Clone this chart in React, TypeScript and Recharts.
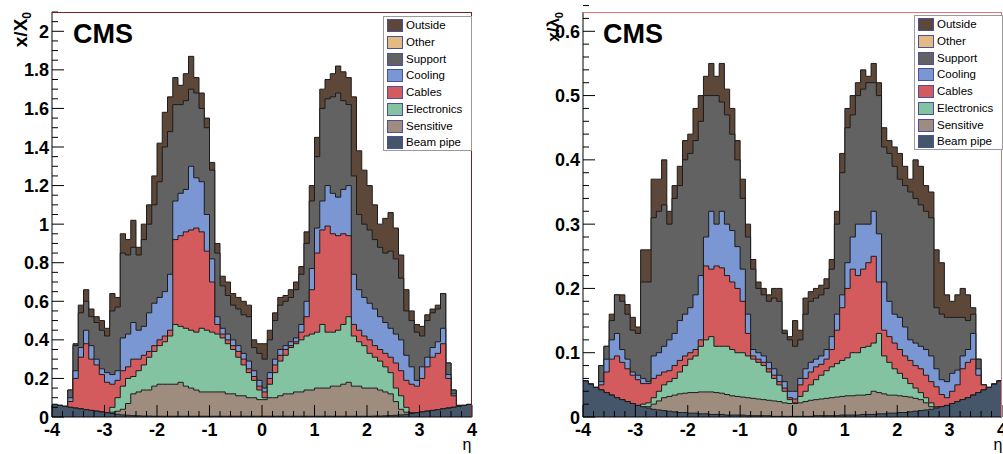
import React from 'react';
import { AreaChart, Area, XAxis, YAxis } from 'recharts';

const FONT = '"Liberation Sans", Arial, Helvetica, sans-serif';

// 80 eta bins of width 0.1 from -4 to 4 (left edges + closing edge)
const etaEdges = Array.from({ length: 81 }, (_, i) => (i - 40) / 10);

const xTickLabels = ['-4', '-3', '-2', '-1', '0', '1', '2', '3', '4'];
const x0TickLabels = ['0', '0.2', '0.4', '0.6', '0.8', '1', '1.2', '1.4', '1.6', '1.8', '2'];
const l0TickLabels = ['0', '0.1', '0.2', '0.3', '0.4', '0.5', '0.6'];

// ---------- radiation length x/X0, stacked tops per category ----------
const x0BeamPipe = [
  .065, .060, .055, .050, .046, .042, .038, .034, .030, .026,
  .022, .018, .014, .011, .009, .007, .006, .005, .005, .004,
  .004, .004, .004, .004, .004, .004, .004, .004, .004, .004,
  .004, .004, .004, .004, .004, .004, .004, .004, .004, .004,
  .004, .004, .004, .004, .004, .004, .004, .004, .004, .004,
  .004, .004, .004, .004, .004, .004, .004, .004, .004, .004,
  .004, .005, .005, .006, .007, .009, .011, .014, .018, .022,
  .026, .030, .034, .038, .042, .046, .050, .055, .060, .065,
];
const x0Sensitive = [
  .065, .060, .055, .050, .046, .042, .038, .034, .030, .026,
  .022, .025, .030, .040, .070, .120, .130, .140, .140, .160,
  .170, .170, .170, .170, .180, .160, .150, .140, .130, .130,
  .130, .130, .130, .120, .120, .110, .110, .100, .100, .090,
  .090, .100, .100, .110, .120, .120, .130, .130, .140, .140,
  .150, .150, .150, .160, .160, .170, .180, .160, .160, .150,
  .150, .150, .140, .130, .120, .080, .040, .025, .020, .022,
  .026, .030, .034, .038, .042, .046, .050, .055, .060, .065,
];
const x0Electronics = [
  .065, .060, .055, .050, .046, .042, .038, .034, .030, .026,
  .022, .050, .100, .160, .200, .210, .240, .270, .310, .340,
  .370, .390, .420, .480, .470, .460, .450, .440, .460, .450,
  .440, .430, .410, .380, .350, .310, .270, .230, .190, .140,
  .100, .170, .230, .290, .320, .360, .380, .400, .420, .430,
  .440, .480, .440, .440, .450, .480, .520, .420, .390, .370,
  .330, .310, .290, .260, .230, .150, .110, .050, .022, .022,
  .026, .030, .034, .038, .042, .046, .050, .055, .060, .065,
];
const x0Cables = [
  .065, .060, .055, .080, .200, .310, .380, .300, .270, .220,
  .180, .170, .190, .240, .260, .300, .300, .320, .340, .370,
  .400, .420, .450, .920, .940, .960, .970, .980, .960, .860,
  .700, .480, .430, .400, .370, .340, .300, .250, .210, .160,
  .130, .200, .270, .320, .350, .370, .390, .440, .520, .660,
  .850, .970, .990, .950, .940, .950, .940, .480, .450, .420,
  .400, .370, .350, .330, .310, .280, .240, .190, .170, .160,
  .200, .260, .310, .330, .380, .200, .110, .060, .060, .065,
];
const x0Cooling = [
  .065, .060, .055, .100, .240, .360, .450, .370, .300, .250,
  .230, .220, .240, .410, .430, .490, .450, .470, .540, .590,
  .620, .650, .740, 1.12, 1.16, 1.18, 1.30, 1.24, 1.22, 1.05,
  .820, .520, .460, .430, .400, .370, .330, .290, .240, .190,
  .150, .230, .300, .350, .370, .390, .410, .480, .600, .770,
  .980, 1.12, 1.20, 1.16, 1.14, 1.18, 1.20, .740, .660, .620,
  .590, .560, .520, .490, .460, .430, .400, .320, .260, .190,
  .260, .310, .360, .390, .460, .220, .120, .060, .060, .065,
];
const x0Support = [
  .065, .060, .055, .140, .370, .540, .600, .520, .490, .450,
  .420, .550, .570, .850, .840, .880, .840, .920, 1.00, 1.10,
  1.22, 1.40, 1.48, 1.62, 1.62, 1.64, 1.70, 1.68, 1.60, 1.50,
  1.28, .850, .680, .630, .580, .560, .530, .520, .360, .330,
  .300, .400, .500, .580, .600, .620, .660, .740, .900, 1.12,
  1.35, 1.60, 1.65, 1.66, 1.68, 1.64, 1.62, 1.25, 1.05, 1.00,
  .970, .920, .880, .850, .860, .820, .720, .550, .500, .440,
  .420, .500, .540, .560, .640, .280, .140, .060, .060, .065,
];
const x0Outside = [
  .065, .060, .055, .140, .380, .580, .660, .560, .520, .500,
  .460, .640, .620, .950, .920, 1.02, .880, 1.00, 1.10, 1.25,
  1.42, 1.58, 1.66, 1.76, 1.72, 1.78, 1.87, 1.76, 1.68, 1.55,
  1.32, .900, .730, .700, .640, .620, .600, .580, .400, .380,
  .380, .450, .540, .620, .630, .660, .700, .780, .960, 1.20,
  1.45, 1.70, 1.75, 1.78, 1.82, 1.79, 1.76, 1.66, 1.38, 1.28,
  1.20, 1.10, 1.00, 1.03, 1.06, .980, .840, .660, .550, .480,
  .470, .530, .560, .580, .640, .280, .140, .060, .060, .065,
];

// ---------- interaction length x/lambda0, stacked tops per category ----------
const l0BeamPipe = [
  .056, .051, .046, .042, .038, .034, .030, .027, .024, .021,
  .018, .016, .014, .012, .011, .010, .009, .008, .007, .007,
  .006, .006, .005, .005, .004, .004, .004, .003, .003, .003,
  .003, .002, .002, .002, .002, .002, .001, .001, .001, .001,
  .001, .001, .001, .001, .002, .002, .002, .002, .002, .003,
  .003, .003, .003, .004, .004, .004, .005, .005, .006, .006,
  .007, .007, .008, .009, .010, .011, .012, .014, .016, .018,
  .021, .024, .027, .030, .034, .038, .042, .046, .051, .056,
];
const l0Sensitive = [
  .056, .051, .046, .042, .038, .034, .030, .027, .024, .021,
  .018, .016, .016, .020, .025, .030, .032, .034, .036, .037,
  .038, .038, .039, .039, .039, .038, .037, .035, .033, .032,
  .031, .030, .029, .028, .027, .026, .025, .024, .022, .021,
  .021, .022, .024, .026, .027, .028, .029, .030, .031, .032,
  .033, .033, .034, .034, .035, .040, .038, .036, .034, .034,
  .033, .032, .031, .029, .027, .022, .016, .014, .016, .018,
  .021, .024, .027, .030, .034, .038, .042, .046, .051, .056,
];
const l0Electronics = [
  .056, .051, .046, .042, .038, .034, .030, .027, .024, .021,
  .018, .020, .022, .030, .040, .050, .055, .060, .070, .080,
  .090, .095, .110, .120, .125, .110, .110, .110, .105, .100,
  .100, .095, .090, .085, .080, .070, .060, .050, .040, .027,
  .022, .032, .040, .050, .058, .065, .072, .078, .083, .088,
  .092, .100, .100, .108, .110, .115, .130, .095, .085, .075,
  .068, .060, .052, .045, .038, .030, .022, .016, .016, .018,
  .021, .024, .027, .030, .034, .038, .042, .046, .051, .056,
];
const l0Cables = [
  .056, .051, .046, .050, .070, .090, .095, .085, .075, .065,
  .058, .052, .052, .060, .065, .070, .072, .080, .088, .095,
  .100, .105, .120, .235, .230, .235, .232, .220, .210, .200,
  .180, .130, .095, .090, .085, .075, .065, .055, .045, .030,
  .028, .050, .060, .070, .078, .082, .090, .105, .135, .170,
  .200, .230, .220, .230, .240, .250, .210, .135, .125, .115,
  .105, .095, .088, .080, .075, .065, .055, .047, .035, .030,
  .040, .050, .075, .085, .090, .065, .050, .046, .051, .056,
];
const l0Cooling = [
  .056, .051, .046, .055, .090, .120, .130, .105, .090, .070,
  .065, .060, .055, .095, .100, .110, .120, .130, .150, .160,
  .170, .190, .220, .280, .320, .300, .320, .300, .290, .265,
  .230, .160, .105, .100, .095, .085, .075, .065, .055, .040,
  .040, .060, .075, .085, .090, .095, .105, .125, .160, .190,
  .240, .280, .300, .300, .300, .320, .285, .210, .180, .160,
  .155, .140, .120, .115, .110, .105, .095, .075, .058, .055,
  .068, .073, .095, .105, .130, .075, .050, .046, .051, .056,
];
const l0Support = [
  .056, .051, .046, .080, .110, .150, .190, .180, .160, .135,
  .130, .210, .210, .310, .320, .330, .300, .340, .360, .400,
  .410, .430, .460, .500, .500, .500, .490, .470, .440, .400,
  .340, .280, .230, .200, .190, .180, .185, .180, .130, .120,
  .110, .120, .160, .180, .185, .190, .200, .230, .300, .380,
  .450, .470, .500, .510, .520, .520, .500, .420, .410, .390,
  .370, .360, .350, .340, .330, .320, .310, .170, .160, .155,
  .155, .155, .155, .150, .160, .090, .050, .046, .051, .056,
];
const l0Outside = [
  .056, .051, .046, .080, .110, .160, .190, .190, .175, .155,
  .140, .260, .260, .370, .370, .400, .320, .360, .390, .430,
  .440, .480, .500, .530, .550, .530, .550, .510, .480, .430,
  .370, .300, .245, .210, .200, .190, .200, .200, .135, .125,
  .150, .135, .185, .195, .200, .205, .215, .245, .320, .410,
  .480, .500, .520, .540, .530, .550, .520, .450, .430, .420,
  .410, .390, .370, .400, .390, .360, .350, .260, .240, .190,
  .180, .190, .200, .190, .170, .090, .050, .046, .051, .056,
];

const categories = [
  { key: 'outside', name: 'Outside', fill: '#5c4738' },
  { key: 'other', name: 'Other', fill: '#e3b984' },
  { key: 'support', name: 'Support', fill: '#626262' },
  { key: 'cooling', name: 'Cooling', fill: '#7b97d3' },
  { key: 'cables', name: 'Cables', fill: '#d35a5d' },
  { key: 'electronics', name: 'Electronics', fill: '#84c3a2' },
  { key: 'sensitive', name: 'Sensitive', fill: '#9e8d7f' },
  { key: 'beampipe', name: 'Beam pipe', fill: '#45566a' },
];

const buildRows = (tops: Record<string, number[]>) =>
  etaEdges.map((eta, i) => {
    const row: Record<string, number> = { eta };
    Object.keys(tops).forEach((k) => {
      row[k] = tops[k][Math.min(i, tops[k].length - 1)];
    });
    return row;
  });

const x0Rows = buildRows({
  outside: x0Outside, support: x0Support, cooling: x0Cooling, cables: x0Cables,
  electronics: x0Electronics, sensitive: x0Sensitive, beampipe: x0BeamPipe,
});
const l0Rows = buildRows({
  outside: l0Outside, support: l0Support, cooling: l0Cooling, cables: l0Cables,
  electronics: l0Electronics, sensitive: l0Sensitive, beampipe: l0BeamPipe,
});

const steps = (from: number, to: number, step: number) => {
  const n = Math.round((to - from) / step);
  return Array.from({ length: n + 1 }, (_, i) => Math.round((from + i * step) * 1000) / 1000);
};

const PLOT_TOP = 12;
const PLOT_BOTTOM = 417;
const H = 454;

type PanelProps = {
  rows: Record<string, number>[];
  width: number;
  right: number;
  yWidth: number;
  yMax: number;
  yMinor: number;
  yMajor: number;
  yLabels: string[];
};

const Panel = ({ rows, width, right, yWidth, yMax, yMinor, yMajor, yLabels }: PanelProps) => {
  const xTicks = steps(-4, 4, 0.2);
  const yTicks = steps(0, yMax, yMinor);

  const xTick = (props: any) => {
    const { x, payload } = props;
    const v = payload.value as number;
    const major = Math.abs(v - Math.round(v)) < 1e-6;
    return (
      <g>
        <line x1={x} x2={x} y1={PLOT_BOTTOM} y2={PLOT_BOTTOM - (major ? 12 : 6)} stroke="#000" strokeWidth={1} />
        {major && (
          <text x={x} y={PLOT_BOTTOM + 19} textAnchor="middle" fontSize={18} fontWeight="bold"
            fontFamily={FONT} fill="#000">
            {xTickLabels[Math.round(v) + 4]}
          </text>
        )}
      </g>
    );
  };

  const yTick = (props: any) => {
    const { y, payload } = props;
    const v = payload.value as number;
    const q = v / yMajor;
    const major = Math.abs(q - Math.round(q)) < 1e-6;
    return (
      <g>
        <line x1={yWidth} x2={yWidth + (major ? 12 : 6)} y1={y} y2={y} stroke="#000" strokeWidth={1} />
        {major && (
          <text x={yWidth - 3} y={y + 6.5} textAnchor="end" fontSize={18} fontWeight="bold"
            fontFamily={FONT} fill="#000">
            {yLabels[Math.round(q)]}
          </text>
        )}
      </g>
    );
  };

  const drawn = categories.filter((c) => c.key !== 'other');

  return (
    <AreaChart width={width} height={H} data={rows} margin={{ top: PLOT_TOP, right, bottom: 0, left: 0 }}>
      {drawn.map((c) => (
        <Area
          key={c.key}
          dataKey={c.key}
          type="stepAfter"
          fill={c.fill}
          fillOpacity={1}
          stroke="#1c1c1c"
          strokeWidth={1}
          baseValue={0}
          dot={false}
          activeDot={false}
          isAnimationActive={false}
        />
      ))}
      <XAxis
        dataKey="eta"
        type="number"
        domain={[-4, 4]}
        ticks={xTicks}
        interval={0}
        tickLine={false}
        axisLine={{ stroke: '#000' }}
        height={H - PLOT_BOTTOM}
        tick={xTick}
        allowDataOverflow
      />
      <YAxis
        type="number"
        domain={[0, yMax]}
        ticks={yTicks}
        interval={0}
        tickLine={false}
        axisLine={{ stroke: '#000' }}
        width={yWidth}
        tick={yTick}
        allowDataOverflow
      />
    </AreaChart>
  );
};

const Legend = ({ left, top }: { left: number; top: number }) => (
  <div style={{
    position: 'absolute', left, top, width: 87, height: 133, background: '#fff',
    border: '1px solid #9a9a9a', fontFamily: FONT, fontSize: 11.5, color: '#000',
  }}>
    {categories.map((c, i) => (
      <div key={c.key} style={{ position: 'absolute', left: 0, top: i * 16.75, height: 16.75, width: 87 }}>
        <div style={{
          position: 'absolute', left: 3, top: 2, width: 14, height: 11,
          background: c.fill, border: '1px solid #4b4f9c',
        }} />
        <div style={{ position: 'absolute', left: 22, top: 1, lineHeight: '14px', whiteSpace: 'nowrap' }}>
          {c.name}
        </div>
      </div>
    ))}
  </div>
);

export default function App() {
  return (
    <div style={{ position: 'absolute', left: 0, top: 0, width: 1003, height: H, background: '#fff', overflow: 'hidden' }}>
      <div style={{ position: 'absolute', left: 0, top: 0 }}>
        <Panel rows={x0Rows} width={490} right={18} yWidth={52} yMax={2.1} yMinor={0.05} yMajor={0.2} yLabels={x0TickLabels} />
      </div>
      <div style={{ position: 'absolute', left: 520, top: 0 }}>
        <Panel rows={l0Rows} width={483} right={1} yWidth={63} yMax={0.63} yMinor={0.02} yMajor={0.1} yLabels={l0TickLabels} />
      </div>

      {/* frame top/right edges */}
      <div style={{ position: 'absolute', left: 52, top: PLOT_TOP, width: 419, height: PLOT_BOTTOM - PLOT_TOP - 1,
        borderTop: '1px solid #7d2020', borderRight: '1px solid #7d2020', pointerEvents: 'none' }} />
      <div style={{ position: 'absolute', left: 583, top: PLOT_TOP, width: 418, height: PLOT_BOTTOM - PLOT_TOP - 1,
        borderTop: '1px solid #e57373', borderRight: '1px solid #e57373', pointerEvents: 'none' }} />

      <Legend left={383} top={16} />
      <Legend left={914} top={15} />

      <svg width={1003} height={H} style={{ position: 'absolute', left: 0, top: 0, pointerEvents: 'none' }}>
        <text x={73} y={43} fontSize={27} fontWeight="bold" fontFamily={FONT} fill="#000">CMS</text>
        <text x={603} y={43} fontSize={27} fontWeight="bold" fontFamily={FONT} fill="#000">CMS</text>
        <text transform="translate(27,12) rotate(-90)" textAnchor="end" fontSize={19} fontWeight="bold" fontFamily={FONT} fill="#000">
          x/X<tspan dy={4} fontSize={12}>0</tspan>
        </text>
        <text transform="translate(559,12) rotate(-90)" textAnchor="end" fontSize={17} fontWeight="bold" fontFamily={FONT} fill="#000">
          x/λ<tspan dy={4} fontSize={11}>0</tspan>
        </text>
        <text x={467} y={450} textAnchor="middle" fontSize={16} fontFamily={FONT} fill="#000">η</text>
        <text x={998} y={450} textAnchor="middle" fontSize={16} fontFamily={FONT} fill="#000">η</text>
      </svg>
    </div>
  );
}
